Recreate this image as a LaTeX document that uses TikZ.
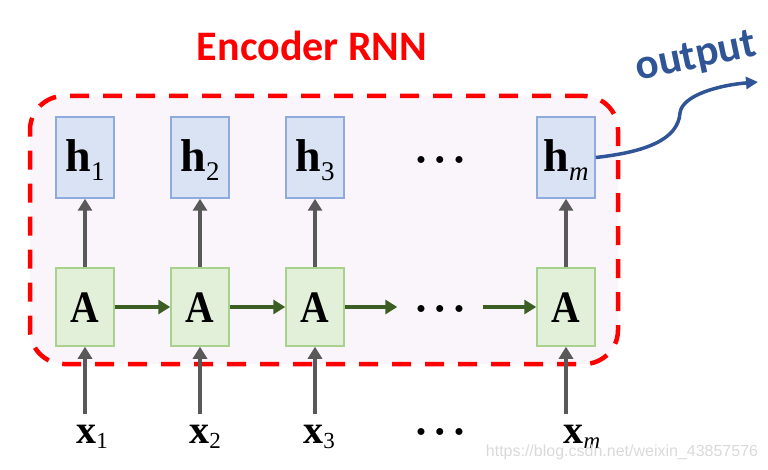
\RequirePackage{fix-cm}
\documentclass[tikz,border=0pt]{standalone}
\usepackage{graphicx}
\usepackage{fontspec}
\newfontfamily\calibri{Carlito}
\newfontfamily\arialf{Liberation Sans}
\newfontfamily\tnr{Liberation Serif}
\usetikzlibrary{arrows.meta}
\definecolor{hfill}{HTML}{DAE3F3}
\definecolor{hdraw}{HTML}{8FAADC}
\definecolor{afill}{HTML}{E2F0D9}
\definecolor{adraw}{HTML}{A9D18E}
\definecolor{grayarr}{HTML}{595959}
\definecolor{greenarr}{HTML}{3B5E25}
\definecolor{outblue}{HTML}{2F5597}
\definecolor{bgpink}{HTML}{FAF5FB}
\newcommand\mkh[1]{{\tnr\fontsize{46}{46}\selectfont\bfseries h}\raisebox{-9pt}{\tnr\fontsize{27}{27}\selectfont #1}}
\newcommand\mkx[1]{{\tnr\fontsize{40}{40}\selectfont\bfseries x}\raisebox{-5pt}{\tnr\fontsize{23}{23}\selectfont #1}}
\newcommand\mkA{{\tnr\fontsize{45}{45}\selectfont\bfseries\scalebox{0.88}[1]{A}}}
\newcommand\mkdots{{\fontsize{18}{18}\selectfont$\bullet$\hspace{10pt}$\bullet$\hspace{10pt}$\bullet$}}
\begin{document}
\begin{tikzpicture}[x=1pt,y=-1pt,
  hbox/.style={draw=hdraw, fill=hfill, line width=1.5pt, minimum width=58pt, minimum height=81pt, inner sep=0pt, text height=31pt, text depth=2pt},
  abox/.style={draw=adraw, fill=afill, line width=1.5pt, minimum width=58pt, minimum height=78pt, inner sep=0pt, text height=30pt, text depth=0pt},
  xlab/.style={inner sep=0pt, anchor=base},
  dotsn/.style={inner ysep=0pt, inner xsep=19pt, text height=9pt, text depth=0pt},
  uparr/.style={draw=grayarr, line width=4pt, -{Triangle[length=12pt,width=14pt]}},
  rarr/.style={draw=greenarr, line width=4pt, -{Triangle[length=12pt,width=14pt]}},
  outarr/.style={draw=outblue, line width=3.5pt, -{Triangle[length=12pt,width=12pt]}},
  encbox/.style={draw=red, fill=bgpink, line width=4.5pt, dash pattern=on 19pt off 14pt, rounded corners=34pt, minimum width=588pt, minimum height=268pt, inner sep=0pt},
]
\useasboundingbox (0,0) rectangle (768,470);

\node[encbox] (enc) at (324,230) {};
\node[text=red, font=\calibri\bfseries\fontsize{42}{50}\selectfont] (title) at (312,46) {Encoder RNN};

% hidden states
\node[hbox] (h1) at (85,157.5) {\mkh{1}};
\node[hbox] (h2) at (200,157.5) {\mkh{2}};
\node[hbox] (h3) at (315,157.5) {\mkh{3}};
\node[dotsn] (dh) at (440,160) {\mkdots};
\node[hbox] (hm) at (566,157.5) {\mkh{\itshape m}};

% cells
\node[abox] (A1) at (85,307) {\mkA};
\node[abox] (A2) at (200,307) {\mkA};
\node[abox] (A3) at (315,307) {\mkA};
\node[dotsn] (dA) at (440,309) {\mkdots};
\node[abox] (Am) at (566,307) {\mkA};

% inputs
\node[xlab] (x1) at (92,443) {\mkx{1}};
\node[xlab] (x2) at (205,443) {\mkx{2}};
\node[xlab] (x3) at (319,443) {\mkx{3}};
\node[dotsn] (dx) at (440,432) {\mkdots};
\node[xlab] (xm) at (582,443) {\mkx{\itshape m}};

% arrows up
\foreach \i in {1,2,3,m}{
  \draw[uparr] (A\i) -- (h\i);
  \draw[uparr, shorten <=10pt] (x\i.north -| A\i.south) -- (A\i.south);
}

% recurrent arrows
\draw[rarr] (A1) -- (A2);
\draw[rarr] (A2) -- (A3);
\draw[rarr] (A3.east) -- (A3.east -| dA.west);
\draw[rarr] (Am.west -| dA.east) -- (Am.west);

% output
\coordinate (oend) at (758,82);
\draw[outarr] (hm.east) .. controls (645,152) and (678,140) .. (680,113)
  .. controls (682,95) and (720,85) .. (oend);
\node[text=outblue, rotate=12, font=\calibri\bfseries\fontsize{43}{50}\selectfont] (outl) at (696,58) {output};

% watermark
\node[text=black!15, font=\arialf\fontsize{16}{19}\selectfont] (wm) at (622,452) {https://blog.csdn.net/weixin\_43857576};
\end{tikzpicture}
\end{document}
